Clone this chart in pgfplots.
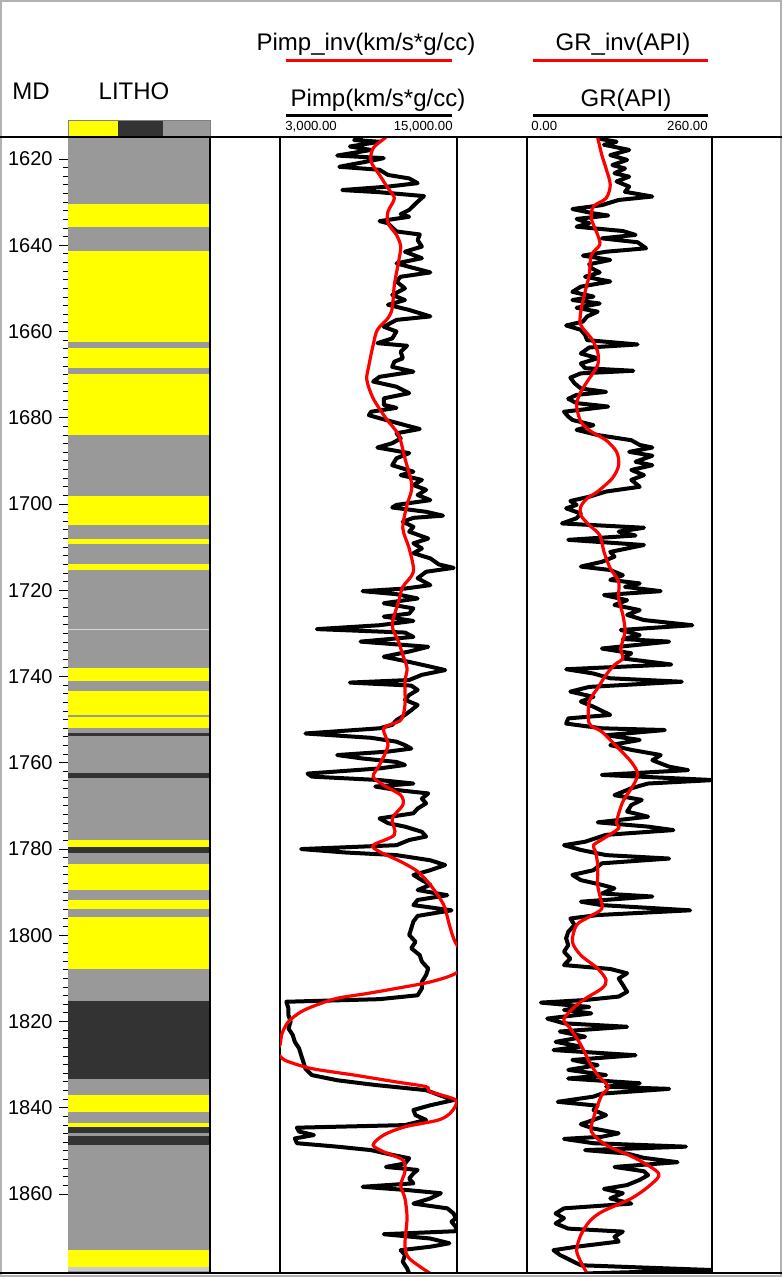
\documentclass[border=0pt]{standalone}
\usepackage{pgfplots}
\pgfplotsset{compat=1.18}
\usepackage{pgfplotstable}
\usepackage{fontspec}
\setmainfont{Liberation Sans}

\definecolor{lityel}{RGB}{255,255,0}
\definecolor{litgray}{RGB}{153,153,153}
\definecolor{litdark}{RGB}{51,51,51}
\definecolor{invred}{RGB}{255,0,0}
\newcommand\hdr{\fontsize{12}{14}\selectfont}
\newcommand\num{\fontsize{10}{12}\selectfont}
\newcommand\sml{\fontsize{6.6}{8}\selectfont}
% one lithology band: top, base, colour
\newcommand\band[3]{\addplot[fill=#3, draw=none] coordinates {(0,#1) (1,#1) (1,#2) (0,#2)} --cycle;}

% P-impedance log and its inversion (km/s*g/cc)
\pgfplotstableread{
md val
1615.0 8600
1615.6 8024
1616.0 9747
1617.1 7737
1617.9 9173
1619.2 6876
1619.8 10034
1620.6 8886
1621.8 7019
1622.5 9747
1623.7 10321
1624.5 11757
1625.6 12331
1626.4 10321
1627.2 7220
1627.7 9747
1628.6 12761
1629.9 12331
1631.8 11757
1632.8 11182
1633.4 11757
1634.4 9747
1634.9 10321
1636.8 10895
1637.5 12474
1638.8 12331
1640.3 12618
1641.5 11470
1643.0 12618
1644.2 10895
1645.0 11757
1646.3 13192
1647.3 11182
1648.4 10895
1650.0 11470
1651.5 10608
1652.7 11470
1653.8 10321
1655.0 11757
1656.5 13192
1657.3 10895
1658.9 10034
1660.0 10895
1661.6 10608
1662.7 9603
1663.3 11613
1664.7 11182
1666.2 11326
1667.0 10752
1668.2 10608
1669.3 12044
1670.5 9747
1671.6 9316
1672.8 10895
1674.3 11757
1675.5 10034
1677.0 10034
1677.7 10895
1678.6 9173
1679.4 9029
1680.1 9747
1681.7 11470
1682.6 12474
1683.6 10895
1684.8 11182
1685.9 10608
1686.9 9603
1688.2 11757
1689.4 10895
1691.0 10608
1692.5 12044
1693.3 11182
1694.4 12618
1695.6 12044
1696.7 12905
1697.9 12331
1699.1 13192
1700.2 10895
1700.8 10608
1701.8 12905
1702.7 14053
1703.2 12044
1704.1 11326
1705.3 12044
1706.4 11757
1708.0 13049
1709.1 12044
1710.3 12618
1711.4 12044
1712.6 13192
1714.0 13766
1714.8 14771
1715.7 12905
1717.2 12331
1718.8 13192
1719.6 11470
1720.2 8598
1720.9 10895
1721.9 12331
1723.0 10034
1724.2 12044
1725.4 11757
1726.1 10034
1727.1 12044
1728.1 9747
1729.0 5498
1729.8 11470
1730.8 12044
1731.9 8455
1733.1 13049
1734.2 11757
1735.4 10034
1736.6 11757
1737.7 13192
1738.5 14197
1739.6 12618
1740.8 11757
1741.4 7737
1742.1 11900
1743.1 12331
1744.3 11757
1745.4 11470
1746.6 12331
1747.8 11900
1748.9 11470
1750.1 10895
1751.2 10608
1752.0 9747
1753.2 4723
1754.2 9173
1755.1 10895
1755.9 11470
1756.7 11900
1757.4 10321
1758.2 6876
1759.0 8598
1759.8 10895
1760.5 11470
1761.3 9747
1762.5 4866
1763.2 5153
1764.0 9747
1764.8 12044
1765.5 9460
1766.3 10895
1767.1 13049
1768.3 12618
1769.4 12905
1770.6 12331
1771.7 12044
1772.9 9747
1774.0 10321
1774.8 11470
1776.0 12618
1777.1 12905
1777.9 11757
1779.1 10895
1780.0 4436
1780.8 7450
1781.4 10895
1782.6 13192
1783.7 14197
1784.9 13192
1786.0 12044
1787.2 12618
1788.3 13192
1789.5 12331
1790.7 14340
1791.8 12331
1793.0 12044
1794.2 14628
1795.5 12331
1796.8 12044
1798.4 11900
1799.9 11757
1801.5 12187
1803.0 11900
1804.6 12474
1806.1 12618
1807.7 13049
1809.2 12905
1810.8 12618
1812.3 12618
1813.9 12331
1814.8 9747
1815.4 3431
1817.0 3574
1818.5 3574
1820.0 3718
1821.6 3574
1823.1 3861
1824.7 4005
1826.2 4292
1827.8 4436
1829.3 4579
1830.9 4723
1832.4 5153
1833.6 6876
1834.7 9460
1835.9 12905
1837.0 13766
1838.2 14771
1839.4 13192
1840.5 12044
1841.7 12187
1842.8 12905
1844.0 11470
1844.6 4148
1845.5 4292
1846.3 5297
1847.1 4005
1848.2 4148
1849.0 6876
1849.8 9173
1850.9 10608
1851.7 11757
1852.9 11470
1853.7 10178
1854.4 12331
1855.2 12044
1856.4 11757
1857.5 12044
1858.3 8598
1859.1 11757
1859.8 13910
1861.0 13192
1862.2 12044
1863.3 14340
1864.5 14771
1865.6 14915
1866.4 14628
1867.6 14915
1868.6 14915
1869.3 10034
1870.3 13192
1871.4 14484
1872.2 13192
1873.0 11182
1874.1 11470
1875.7 11326
1877.2 11613
1878.4 11757
}\pimp

\pgfplotstableread{
md val
1615.0 10178
1617.5 9316
1620.6 9173
1623.7 9747
1626.8 10321
1629.1 10752
1632.2 10321
1634.9 10321
1637.6 10895
1640.3 11182
1643.8 11039
1649.2 10752
1654.6 10608
1656.9 10321
1659.6 9603
1663.1 9316
1667.8 9029
1671.2 8886
1675.5 9316
1680.1 10178
1684.0 11039
1689.4 11470
1694.8 11900
1697.1 11900
1700.2 11613
1705.6 11326
1710.3 11757
1715.7 12044
1719.2 11326
1722.6 11039
1728.1 10608
1731.9 11039
1735.0 11326
1738.1 11613
1741.2 11470
1746.6 11470
1750.1 11182
1752.0 10034
1755.9 10321
1760.5 9747
1763.2 9316
1765.2 10034
1767.5 11182
1769.8 11326
1772.9 10608
1776.7 10752
1779.1 9316
1780.6 9747
1782.9 11182
1785.2 12331
1788.3 13192
1791.8 13910
1793.8 14197
1797.6 14484
1800.7 14771
1802.6 15058
1805.4 15776
1808.8 14915
1810.8 13192
1812.3 10895
1813.5 8886
1814.6 6876
1816.2 5440
1817.7 4436
1820.0 3574
1822.7 3144
1825.4 3000
1827.0 2800
1828.5 3144
1829.3 3574
1830.9 5153
1832.4 8024
1834.0 10895
1835.1 12905
1836.3 13192
1838.2 14915
1840.9 14628
1842.8 13766
1844.4 11470
1846.3 10034
1848.6 9316
1850.2 10034
1852.1 11326
1854.8 11470
1857.9 11182
1861.0 11470
1865.6 11613
1871.8 11470
1874.9 11757
1878.4 13192
}\pimpinv

% gamma ray log and its inversion (API)
\pgfplotstableread{
md val
1615.0 100.0
1615.4 105.2
1616.0 125.9
1616.7 108.2
1617.9 143.6
1619.1 117.0
1620.2 140.7
1621.4 120.0
1622.2 137.7
1623.3 122.9
1624.1 143.6
1625.2 125.9
1626.4 143.6
1627.6 137.7
1628.7 176.1
1629.5 128.8
1630.7 105.2
1631.6 63.8
1632.6 93.4
1633.1 114.1
1633.9 69.7
1634.9 87.5
1635.7 69.7
1636.7 134.7
1637.6 152.5
1638.4 105.2
1639.3 155.4
1640.7 167.3
1641.5 111.1
1642.4 78.6
1643.4 117.0
1644.4 87.5
1645.3 90.4
1646.3 102.2
1647.3 81.6
1648.4 117.0
1649.6 75.6
1650.8 63.8
1651.9 93.4
1652.7 63.8
1653.5 102.2
1654.5 69.7
1655.4 99.3
1656.5 84.5
1657.7 78.6
1658.6 55.0
1659.6 75.6
1660.8 81.6
1662.0 84.5
1663.0 155.4
1663.7 87.5
1665.1 75.6
1666.2 99.3
1667.4 75.6
1668.5 81.6
1669.1 149.5
1669.7 75.6
1670.7 60.9
1672.0 66.8
1673.2 75.6
1674.0 111.1
1674.7 69.7
1675.6 57.9
1676.6 69.7
1677.4 114.1
1678.6 52.0
1679.7 57.9
1680.5 63.8
1681.7 93.4
1682.8 69.7
1684.0 99.3
1685.2 146.6
1686.3 158.4
1686.9 176.1
1687.9 143.6
1688.8 176.1
1690.2 152.5
1691.0 176.1
1692.1 146.6
1693.3 164.3
1694.4 146.6
1696.0 158.4
1697.1 111.1
1698.3 87.5
1699.3 60.9
1700.2 69.7
1701.0 55.0
1702.2 75.6
1703.3 69.7
1704.5 49.1
1705.5 164.3
1706.4 128.8
1707.3 152.5
1708.3 57.9
1709.5 164.3
1710.3 140.7
1711.1 117.0
1712.2 122.9
1713.4 105.2
1714.5 75.6
1715.3 117.0
1716.5 134.7
1717.6 117.0
1718.4 158.4
1719.2 137.7
1720.2 187.9
1721.1 108.2
1722.3 140.7
1723.4 122.9
1724.6 158.4
1725.7 140.7
1726.9 164.3
1728.1 232.3
1729.2 131.8
1730.4 158.4
1731.3 134.7
1731.9 199.8
1733.1 128.8
1733.5 105.2
1734.6 146.6
1735.8 134.7
1737.2 202.7
1738.3 55.0
1739.3 93.4
1740.4 117.0
1741.2 217.5
1742.4 87.5
1743.5 60.9
1744.7 93.4
1745.8 75.6
1747.0 93.4
1748.9 117.0
1749.7 57.9
1750.9 55.0
1752.0 105.2
1752.4 193.8
1753.6 111.1
1754.7 158.4
1755.9 117.0
1757.0 146.6
1758.2 187.9
1759.4 176.1
1760.9 199.8
1761.7 226.4
1762.8 105.2
1764.0 261.8
1764.8 170.2
1765.9 146.6
1767.5 122.9
1768.6 161.3
1769.8 146.6
1771.3 140.7
1772.5 170.2
1773.8 99.3
1774.8 170.2
1775.6 205.7
1776.7 111.1
1778.3 81.6
1779.1 52.0
1780.2 75.6
1781.4 111.1
1782.2 199.8
1783.3 105.2
1784.9 93.4
1786.0 63.8
1787.2 75.6
1788.3 105.2
1789.1 122.9
1790.3 105.2
1791.0 176.1
1792.2 75.6
1793.0 105.2
1794.2 229.3
1795.3 99.3
1796.1 60.9
1797.6 66.8
1799.2 57.9
1800.7 55.0
1802.3 57.9
1803.8 52.0
1805.4 60.9
1806.9 52.0
1807.8 117.0
1808.8 140.7
1810.0 128.8
1811.5 134.7
1813.1 140.7
1814.2 128.8
1815.0 81.6
1815.6 19.5
1816.6 87.5
1817.3 52.0
1818.1 90.4
1819.3 28.4
1820.4 52.0
1821.2 140.7
1822.3 46.1
1823.5 81.6
1824.7 40.2
1825.8 75.6
1826.6 37.2
1827.8 152.5
1828.9 63.8
1830.1 99.3
1831.2 57.9
1832.4 111.1
1833.2 57.9
1834.3 158.4
1835.1 111.1
1835.6 199.8
1836.7 105.2
1837.4 93.4
1838.6 43.1
1839.5 99.3
1840.5 93.4
1841.7 111.1
1842.8 93.4
1843.8 75.6
1844.8 93.4
1845.9 128.8
1846.7 105.2
1847.2 52.0
1848.2 93.4
1849.0 223.4
1849.8 81.6
1850.6 140.7
1851.6 164.3
1852.6 211.6
1853.7 122.9
1854.7 164.3
1855.6 170.2
1856.7 158.4
1857.9 140.7
1858.8 108.2
1859.8 134.7
1861.0 117.0
1862.2 146.6
1863.3 52.0
1864.5 40.2
1865.6 52.0
1866.8 40.2
1868.0 57.9
1868.7 134.7
1869.9 122.9
1871.0 128.8
1872.2 69.7
1873.0 37.2
1874.1 46.1
1875.3 60.9
1876.5 75.6
1877.6 258.9
1878.4 81.6
}\gr

\pgfplotstableread{
md val
1615.0 99.3
1619.1 105.2
1622.2 111.1
1626.0 117.0
1629.1 111.1
1631.0 93.4
1633.8 90.4
1637.6 99.3
1639.9 102.2
1642.3 90.4
1646.9 87.5
1650.8 81.6
1655.4 75.6
1658.5 75.6
1661.6 90.4
1664.7 99.3
1667.8 99.3
1670.9 87.5
1674.0 75.6
1677.0 69.7
1680.9 75.6
1683.2 90.4
1685.2 111.1
1687.9 125.9
1691.0 128.8
1694.0 120.0
1697.1 99.3
1698.7 84.5
1700.6 75.6
1702.6 75.6
1704.9 87.5
1707.2 102.2
1711.1 108.2
1714.9 117.0
1718.0 128.8
1721.9 128.8
1725.7 134.7
1729.6 137.7
1733.5 131.8
1735.8 134.7
1737.3 122.9
1739.6 111.1
1742.7 99.3
1745.8 87.5
1750.9 87.5
1752.8 105.2
1756.7 128.8
1759.8 146.6
1762.5 155.4
1765.2 149.5
1769.0 134.7
1773.7 125.9
1775.2 128.8
1777.5 108.2
1779.1 93.4
1780.6 96.3
1783.7 99.3
1788.3 99.3
1790.7 102.2
1793.8 105.2
1795.7 87.5
1797.6 69.7
1801.5 63.8
1804.6 75.6
1807.7 99.3
1810.4 111.1
1812.3 105.2
1815.4 75.6
1819.3 52.0
1821.6 60.9
1825.4 75.6
1829.3 87.5
1832.4 99.3
1835.1 114.1
1837.0 105.2
1839.4 99.3
1842.4 93.4
1845.5 90.4
1848.6 111.1
1851.7 152.5
1855.2 185.0
1857.9 173.2
1861.0 146.6
1864.1 105.2
1866.4 87.5
1869.5 75.6
1873.0 69.7
1875.7 75.6
1878.4 84.5
}\grinv

\pgfplotsset{
  track/.style={
    scale only axis, anchor=north west, height=568pt,
    y dir=reverse, ymin=1614.9, ymax=1878.3,
    xtick=\empty, ytick=\empty,
    axis line style={black, line width=1pt},
  },
}

\begin{document}
\begin{tikzpicture}
% header, in pixel units (y downwards)
\begin{scope}[x=0.5pt, y=-0.5pt]
  \draw[black!30, line width=0.75pt] (1,1) rectangle (781,1276);
  \fill[lityel] (68,120) rectangle (118,137);
  \fill[litdark] (118,120) rectangle (163,137);
  \fill[litgray] (163,120) rectangle (210,137);
  \draw[black!50, line width=0.4pt] (68,120) rectangle (210,137);
  \node[anchor=base, font=\hdr, inner sep=0] at (31,100) {MD};
  \node[anchor=base, font=\hdr, inner sep=0] at (134,100) {LITHO};
  \node[anchor=base, font=\hdr, inner sep=0] at (366,51) {Pimp\_inv(km/s*g/cc)};
  \draw[invred, line width=1.5pt] (286,61) -- (452,61);
  \node[anchor=base, font=\hdr, inner sep=0] at (378,107) {Pimp(km/s*g/cc)};
  \draw[black, line width=1.5pt] (286,116) -- (452,116);
  \node[anchor=base west, font=\sml, inner sep=0] at (285,131) {3,000.00};
  \node[anchor=base east, font=\sml, inner sep=0] at (453,131) {15,000.00};
  \node[anchor=base, font=\hdr, inner sep=0] at (623,51) {GR\_inv(API)};
  \draw[invred, line width=1.5pt] (533,61) -- (708,61);
  \node[anchor=base, font=\hdr, inner sep=0] at (626,107) {GR(API)};
  \draw[black, line width=1.5pt] (533,116) -- (708,116);
  \node[anchor=base west, font=\sml, inner sep=0] at (531,131) {0.00};
  \node[anchor=base east, font=\sml, inner sep=0] at (708,131) {260.00};
\end{scope}

% MD scale and lithology column
\begin{axis}[
  scale only axis, anchor=north west, at={(34pt,-68.5pt)},
  width=71pt, height=568pt,
  xmin=0, xmax=1, y dir=reverse, ymin=1614.9, ymax=1878.3,
  axis line style={draw=none},
  axis background/.style={fill=litgray},
  xtick=\empty,
  ytick={1620,1640,...,1860}, minor y tick num=9,
  ytick pos=left, tick align=outside,
  major tick length=4.5pt, minor tick length=2.5pt,
  tick style={black, line width=0.5pt},
  yticklabel style={font=\num, anchor=east, inner sep=0pt},
  yticklabel shift=3pt,
  /pgf/number format/assume math mode=true,
  /pgf/number format/1000 sep={},
]
\band{1630.4}{1635.8}{lityel}
\band{1641.3}{1662.5}{lityel}
\band{1663.9}{1668.5}{lityel}
\band{1669.9}{1684.0}{lityel}
\band{1698.1}{1704.9}{lityel}
\band{1708.1}{1709.3}{lityel}
\band{1714.0}{1715.3}{lityel}
\band{1728.9}{1729.1}{black!15}
\band{1738.1}{1741.0}{lityel}
\band{1743.3}{1748.8}{lityel}
\band{1749.3}{1751.9}{lityel}
\band{1753.2}{1753.8}{litdark}
\band{1762.3}{1763.6}{litdark}
\band{1777.9}{1779.5}{lityel}
\band{1779.5}{1780.8}{litdark}
\band{1783.5}{1789.5}{lityel}
\band{1791.8}{1793.8}{lityel}
\band{1795.8}{1807.7}{lityel}
\band{1815.2}{1833.3}{litdark}
\band{1837.0}{1840.9}{lityel}
\band{1843.6}{1844.5}{lityel}
\band{1844.5}{1845.9}{litdark}
\band{1846.5}{1848.5}{litdark}
\band{1873.0}{1877.0}{lityel}
\band{1877.0}{1877.8}{black!20}
\end{axis}

% P-impedance track
\begin{axis}[track, at={(140pt,-68.5pt)}, width=88.5pt, xmin=3000, xmax=15000]
\addplot[black, line width=2pt, line join=round] table[x=val, y=md] {\pimp};
\addplot[invred, line width=1.6pt, smooth, tension=0.5] table[x=val, y=md] {\pimpinv};
\end{axis}

% gamma ray track
\begin{axis}[track, at={(263.5pt,-68.5pt)}, width=92.5pt, xmin=0, xmax=260]
\addplot[black, line width=2pt, line join=round] table[x=val, y=md] {\gr};
\addplot[invred, line width=1.6pt, smooth, tension=0.5] table[x=val, y=md] {\grinv};
\end{axis}

% track frame lines
\begin{scope}[x=0.5pt, y=-0.5pt]
  \draw[black, line width=1.25pt] (0,137) -- (782,137);
  \draw[black, line width=1.25pt] (0,1273) -- (782,1273);
  \draw[black, line width=1pt] (210,137) -- (210,1273);
\end{scope}
\pgfresetboundingbox
\useasboundingbox (0pt,0pt) rectangle (391pt,-638.5pt);
\end{tikzpicture}
\end{document}
